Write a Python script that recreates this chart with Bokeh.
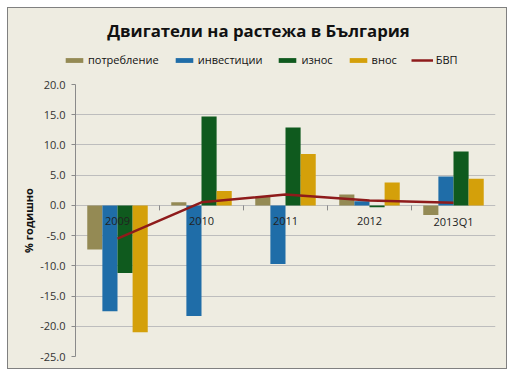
from math import pi
from bokeh.plotting import figure
from bokeh.layouts import column
from bokeh.models import (FactorRange, Range1d, ColumnDataSource, Legend, LegendItem,
                          Label, FixedTicker, NumeralTickFormatter)
from bokeh.transform import dodge
from bokeh.core.properties import value
from bokeh.embed import file_html
from bokeh.resources import INLINE

categories = ["2009", "2010", "2011", "2012", "2013Q1"]
potreblenie = [-7.3, 0.5, 1.4, 1.8, -1.6]
investicii = [-17.5, -18.3, -9.7, 0.7, 4.8]
iznos = [-11.2, 14.7, 12.9, -0.3, 8.9]
vnos = [-21.0, 2.4, 8.5, 3.8, 4.4]
bvp = [-5.5, 0.5, 1.8, 0.8, 0.45]
series_names = ["потребление", "инвестиции", "износ", "внос", "БВП"]
y_ticks = [-25, -20, -15, -10, -5, 0, 5, 10, 15, 20]
title_text = "Двигатели на растежа в България"
y_label = "% годишно"

FONT = "Open Sans"
BG = "#EEECE1"
colors = ["#948A54", "#1F6DA8", "#0F5A1E", "#D4A00A"]
line_color = "#8E1B1B"
W = 498
TOP_H = 70

# ---------- header (title + legend) ----------
top = figure(width=W, height=TOP_H, x_range=Range1d(0, W), y_range=Range1d(0, TOP_H),
             x_axis_type=None, y_axis_type=None, output_backend="svg",
             toolbar_location=None, min_border=0, background_fill_color=BG,
             border_fill_color=BG, outline_line_color=None)
top.xgrid.visible = False
top.ygrid.visible = False
x_left = 0
if hasattr(top, "frame_align"):
    top.frame_align = False
else:
    x_left = -67

# legend proxies (hidden renderers in the header that carry the series styles)
idx = list(range(len(categories)))
series_vals = [potreblenie, investicii, iznos, vnos]
proxies = []
for vals, c in zip(series_vals, colors):
    proxies.append(top.vbar(x=idx, top=vals, width=0.5, fill_color=c,
                            line_color=None, visible=False))
proxies.append(top.line(x=idx, y=bvp, line_color=line_color, line_width=2.5,
                        visible=False))
legend = Legend(items=[LegendItem(label=n, renderers=[r]) for n, r in zip(series_names, proxies)],
                orientation="horizontal", location=(x_left + 55, 11),
                background_fill_alpha=0, border_line_color=None,
                label_text_font=FONT, label_text_font_size="11px",
                label_text_color="#111111", glyph_width=22, glyph_height=6,
                spacing=14, padding=0, margin=0, label_standoff=3)
top.add_layout(legend, "center")
top.add_layout(Label(x=x_left + 250, y=48, x_units="screen", y_units="screen",
                     text=title_text, text_align="center", text_baseline="middle",
                     text_font=FONT, text_font_size="16.8px", text_font_style="bold",
                     text_color="#111111"))

# ---------- chart ----------
src = ColumnDataSource(dict(cat=categories, p=potreblenie, i=investicii,
                            e=iznos, v=vnos, b=bvp, zero=[0] * len(categories)))

p = figure(width=W, height=290, x_range=FactorRange(factors=categories),
           y_range=Range1d(y_ticks[0], y_ticks[-1]), output_backend="svg",
           toolbar_location=None, min_border_left=67, min_border_right=11,
           min_border_top=6, min_border_bottom=12, background_fill_color=BG,
           border_fill_color=BG, outline_line_color=None)
if hasattr(p, "frame_align"):
    p.frame_align = False

w = 0.18
offs = [-0.27, -0.09, 0.09, 0.27]
for col, off, c in zip(["p", "i", "e", "v"], offs, colors):
    p.vbar(x=dodge("cat", off, range=p.x_range), top=col, bottom=0, width=w,
           source=src, fill_color=c, line_color=None)

# small category tick marks on the zero line (between categories)
p.ray(x=list(range(1, len(categories))), y=0, length=5, length_units="screen",
      angle=-pi / 2, line_color="#8a8a8a", line_width=1)

p.line(x="cat", y="b", source=src, line_color=line_color, line_width=2.5)

p.text(x="cat", y="zero", text="cat", source=src, y_offset=16,
       text_align="center", text_baseline="middle", text_font=value(FONT),
       text_font_size="11px", text_color="#222222")

p.xaxis.visible = False
p.xgrid.grid_line_color = None
p.ygrid.grid_line_color = "#BDBDBD"
p.ygrid.ticker = FixedTicker(ticks=y_ticks)
p.yaxis.ticker = FixedTicker(ticks=y_ticks)
p.yaxis.formatter = NumeralTickFormatter(format="0.0")
p.yaxis.axis_line_color = "#8a8a8a"
p.yaxis.major_tick_line_color = "#8a8a8a"
p.yaxis.major_tick_out = 4
p.yaxis.major_tick_in = 0
p.yaxis.minor_tick_line_color = None
p.yaxis.major_label_text_font = FONT
p.yaxis.major_label_text_font_size = "11px"
p.yaxis.major_label_text_color = "#333333"
p.yaxis.major_label_standoff = 6
p.yaxis.axis_label = y_label
p.yaxis.axis_label_text_font = FONT
p.yaxis.axis_label_text_font_size = "11px"
p.yaxis.axis_label_text_font_style = "bold"
p.yaxis.axis_label_text_color = "#111111"
p.yaxis.axis_label_standoff = 1

layout = column(top, p, spacing=0,
                styles={"border": "1px solid #808080", "margin-left": "7px",
                        "margin-top": "7px", "background-color": BG})

open("out.html", "w").write(file_html(layout, INLINE))
